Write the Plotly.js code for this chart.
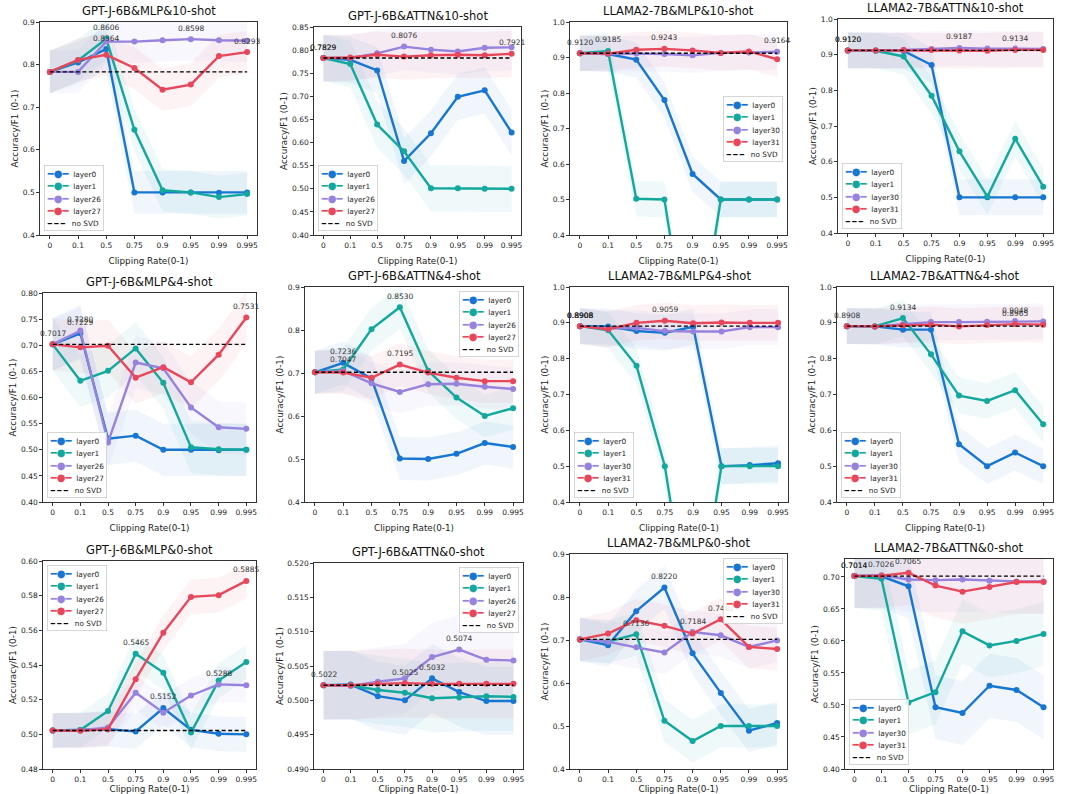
<!DOCTYPE html>
<html><head><meta charset="utf-8">
<script src="https://cdn.plot.ly/plotly-3.0.1.min.js"></script>
<style>html,body{margin:0;padding:0;background:#fff}</style>
</head><body><div id="chart" style="width:1067px;height:794px"></div>
<script>
// ---------------- DATA ----------------
const categories = ['0','0.1','0.5','0.75','0.9','0.95','0.99','0.995'];
const gptjLayers = ['layer0','layer1','layer26','layer27'];
const llamaLayers = ['layer0','layer1','layer30','layer31'];

const panelTitles = [
  'GPT-J-6B&MLP&10-shot','GPT-J-6B&ATTN&10-shot','LLAMA2-7B&MLP&10-shot','LLAMA2-7B&ATTN&10-shot',
  'GPT-J-6B&MLP&4-shot','GPT-J-6B&ATTN&4-shot','LLAMA2-7B&MLP&4-shot','LLAMA2-7B&ATTN&4-shot',
  'GPT-J-6B&MLP&0-shot','GPT-J-6B&ATTN&0-shot','LLAMA2-7B&MLP&0-shot','LLAMA2-7B&ATTN&0-shot'
];
const noSvdBaselines = [0.7829,0.7829,0.9120,0.9120,0.7017,0.7017,0.8908,0.8908,0.5022,0.5022,0.7014,0.7014];
const bandHalfWidths = [0.05,0.05,0.05,0.05,0.05,0.05,0.05,0.05,0.01,0.005,0.05,0.05];

const gptjMlp10 = [
  [0.7829,0.805,0.8364,0.500,0.500,0.500,0.499,0.500],
  [0.7829,0.810,0.8606,0.647,0.505,0.500,0.489,0.496],
  [0.7829,0.7829,0.854,0.854,0.857,0.8598,0.857,0.856],
  [0.7829,0.811,0.823,0.792,0.741,0.753,0.820,0.8293]
];
const gptjAttn10 = [
  [0.7829,0.779,0.756,0.560,0.620,0.699,0.713,0.622],
  [0.7829,0.770,0.639,0.581,0.501,0.501,0.500,0.500],
  [0.7829,0.783,0.793,0.8076,0.801,0.797,0.805,0.806],
  [0.7829,0.784,0.790,0.786,0.789,0.790,0.789,0.7921]
];
const llamaMlp10 = [
  [0.9120,0.910,0.894,0.780,0.572,0.500,0.500,0.500],
  [0.9120,0.9185,0.502,0.500,0.000,0.500,0.500,0.500],
  [0.9120,0.910,0.911,0.910,0.906,0.913,0.914,0.9164],
  [0.9120,0.911,0.922,0.9243,0.920,0.913,0.917,0.895]
];
const llamaAttn10 = [
  [0.9120,0.9118,0.9105,0.871,0.500,0.500,0.500,0.500],
  [0.9120,0.911,0.895,0.785,0.629,0.502,0.664,0.530],
  [0.9120,0.912,0.913,0.916,0.9187,0.917,0.917,0.916],
  [0.9120,0.912,0.913,0.913,0.912,0.911,0.9134,0.913]
];
const gptjMlp4 = [
  [0.7017,0.7229,0.521,0.527,0.500,0.500,0.499,0.500],
  [0.7017,0.632,0.651,0.694,0.628,0.505,0.501,0.500],
  [0.7017,0.7280,0.514,0.667,0.656,0.581,0.543,0.540],
  [0.7017,0.696,0.699,0.638,0.658,0.629,0.682,0.7531]
];
const gptjAttn4 = [
  [0.7017,0.7236,0.687,0.501,0.500,0.512,0.537,0.528],
  [0.7017,0.708,0.802,0.8530,0.705,0.643,0.600,0.618],
  [0.7017,0.7047,0.676,0.656,0.674,0.675,0.668,0.663],
  [0.7017,0.701,0.689,0.7195,0.701,0.689,0.681,0.681]
];
const llamaMlp4 = [
  [0.8908,0.890,0.877,0.872,0.889,0.500,0.503,0.508],
  [0.8908,0.879,0.780,0.500,0.000,0.500,0.500,0.500],
  [0.8908,0.884,0.886,0.877,0.876,0.876,0.888,0.888],
  [0.8908,0.882,0.900,0.9059,0.899,0.901,0.900,0.900]
];
const llamaAttn4 = [
  [0.8908,0.890,0.881,0.881,0.561,0.500,0.538,0.500],
  [0.8908,0.890,0.9134,0.812,0.697,0.682,0.712,0.617],
  [0.8908,0.890,0.896,0.902,0.902,0.903,0.9048,0.904],
  [0.8908,0.890,0.893,0.895,0.890,0.894,0.8965,0.895]
];
const gptjMlp0 = [
  [0.5022,0.5025,0.5030,0.5017,0.5152,0.5026,0.5003,0.5000],
  [0.5022,0.5025,0.5135,0.5465,0.5356,0.5010,0.5310,0.5417],
  [0.5022,0.5022,0.5040,0.5240,0.5125,0.5224,0.5288,0.5283],
  [0.5022,0.5020,0.5030,0.5318,0.5586,0.5793,0.5803,0.5885]
];
const gptjAttn0 = [
  [0.5022,0.5023,0.5006,0.5000,0.5032,0.5012,0.4999,0.4999],
  [0.5022,0.5022,0.5015,0.5011,0.5003,0.5004,0.5006,0.5005],
  [0.5022,0.5021,0.5027,0.5032,0.5063,0.5074,0.5059,0.5058],
  [0.5022,0.5022,0.5024,0.5025,0.5024,0.5024,0.5024,0.5024]
];
const llamaMlp0 = [
  [0.7014,0.688,0.767,0.8220,0.669,0.577,0.489,0.507],
  [0.7014,0.696,0.7136,0.512,0.465,0.500,0.500,0.500],
  [0.7014,0.696,0.683,0.671,0.7184,0.711,0.684,0.699],
  [0.7014,0.715,0.746,0.733,0.715,0.7482,0.684,0.679]
];
const llamaAttn0 = [
  [0.7014,0.7010,0.6854,0.4964,0.4875,0.530,0.5234,0.4964],
  [0.7014,0.697,0.504,0.520,0.615,0.593,0.600,0.611],
  [0.7014,0.7026,0.696,0.695,0.696,0.694,0.693,0.693],
  [0.7014,0.702,0.7065,0.6865,0.677,0.6844,0.692,0.692]
];

// ---------------- STYLE / LAYOUT ----------------
const seriesColors = ['#1776d1','#13a89e','#9782de','#e8475b'];
const bandColors = ['rgba(23,118,209,0.065)','rgba(19,168,158,0.065)','rgba(151,130,222,0.065)','rgba(232,71,91,0.065)'];
const FONT = 'DejaVu Sans, Liberation Sans, sans-serif';
const W = 1067, H = 794;
// plot-area boxes in px: [left, right, top, bottom]
const boxes = [[40,257,22,235],[314,521,27,235],[570,787,22,235],[838,1053,19,233],
  [43,256,293,502],[305,523,287,502],[570,788,287,502],[837,1053,287,502],
  [43,256,561,769],[314,523,563,769],[570,787,554,769],[845,1053,559,769]];
const yRanges = [[0.4,0.9],[0.4,0.85],[0.4,1.0],[0.4,1.0],[0.4,0.8],[0.4,0.9],[0.4,1.0],[0.4,1.0],[0.48,0.60],[0.49,0.52],[0.4,0.9],[0.4,0.728]];
const yDticks = [0.1,0.05,0.1,0.1,0.05,0.1,0.1,0.1,0.02,0.005,0.1,0.05];
const yFormats = ['.1f','.2f','.1f','.1f','.2f','.1f','.1f','.1f','.2f','.3f','.1f','.2f'];
const legendLocs = ['ll','ll','cr','ll','ll','ur','ll','ll','ul','ur','ur','ll'];

const panelValues = [gptjMlp10,gptjAttn10,llamaMlp10,llamaAttn10,gptjMlp4,gptjAttn4,llamaMlp4,llamaAttn4,gptjMlp0,gptjAttn0,llamaMlp0,llamaAttn0];
const panelLayers = [gptjLayers,gptjLayers,llamaLayers,llamaLayers,gptjLayers,gptjLayers,llamaLayers,llamaLayers,gptjLayers,gptjLayers,llamaLayers,llamaLayers];

function legendText(layers){
  const nb = '\u00a0';
  const lines = layers.map((l,k)=>`<span style="color:${seriesColors[k]};font-size:10px">━●━</span><span style="font-size:7.3px">${nb}${nb}${l}</span>`);
  lines.push(`<span style="color:#000;font-size:7px">━ ━ ━</span><span style="font-size:7.3px">${nb}${nb}${nb}no SVD</span>`);
  return lines.join('<br>');
}
const legendPos = {
  ll:{x:0.02,y:0.02,xanchor:'left',yanchor:'bottom'},
  ul:{x:0.02,y:0.98,xanchor:'left',yanchor:'top'},
  ur:{x:0.98,y:0.98,xanchor:'right',yanchor:'top'},
  cr:{x:0.98,y:0.5,xanchor:'right',yanchor:'middle'}
};

const traces = [];
const annotations = [];
const layout = {
  width:W, height:H, margin:{l:0,r:0,t:0,b:0},
  paper_bgcolor:'#fff', plot_bgcolor:'#fff', showlegend:false,
  font:{family:FONT, color:'#222'}, hovermode:false
};

panelValues.forEach((vals,i)=>{
  const n = i+1;
  const xa = 'x'+(n>1?n:''), ya = 'y'+(n>1?n:'');
  const b = boxes[i];
  const d = bandHalfWidths[i];
  // bands
  vals.forEach((v,k)=>{
    traces.push({x:categories, y:v.map(z=>z+d), xaxis:xa, yaxis:ya, mode:'lines', line:{width:0,color:'rgba(0,0,0,0)'}, showlegend:false, hoverinfo:'skip'});
    traces.push({x:categories, y:v.map(z=>z-d), xaxis:xa, yaxis:ya, mode:'lines', line:{width:0,color:'rgba(0,0,0,0)'}, fill:'tonexty', fillcolor:bandColors[k], showlegend:false, hoverinfo:'skip'});
  });
  // lines
  vals.forEach((v,k)=>{
    traces.push({x:categories, y:v, xaxis:xa, yaxis:ya, name:panelLayers[i][k], mode:'lines+markers',
      line:{color:seriesColors[k], width:2.4}, marker:{color:seriesColors[k], size:6}, cliponaxis:true});
    let mi = 0; v.forEach((z,j)=>{ if(z>v[mi]) mi=j; });
    // category axis: annotation x given as the category index
    annotations.push({xref:xa, yref:ya, x:categories.indexOf(categories[mi]), y:v[mi], text:v[mi].toFixed(4), showarrow:false,
      yshift:11, font:{size:7.5, color:'#333', family:FONT}});
  });
  // no SVD baseline
  traces.push({x:categories, y:categories.map(()=>noSvdBaselines[i]), xaxis:xa, yaxis:ya, name:'no SVD', mode:'lines',
    line:{color:'#000', width:1.3, dash:'4px,2.5px'}});

  layout['xaxis'+(n>1?n:'')] = {
    domain:[b[0]/W, b[1]/W], anchor:ya, type:'category', categoryorder:'array', categoryarray:categories,
    range:[-0.35,7.35], showline:true, mirror:true, linecolor:'#000', linewidth:0.8,
    ticks:'outside', ticklen:3, tickwidth:0.8, tickcolor:'#000', showgrid:false, zeroline:false,
    tickfont:{size:7.5, color:'#222', family:FONT},
    title:{text:'Clipping Rate(0-1)', font:{size:8.8, color:'#222', family:FONT}, standoff:8}
  };
  layout['yaxis'+(n>1?n:'')] = {
    domain:[1-b[3]/H, 1-b[2]/H], anchor:xa, range:yRanges[i], tickmode:'linear', tick0:yRanges[i][0], dtick:yDticks[i],
    tickformat:yFormats[i], showline:true, mirror:true, linecolor:'#000', linewidth:0.8,
    ticks:'outside', ticklen:3, tickwidth:0.8, tickcolor:'#000', showgrid:false, zeroline:false,
    tickfont:{size:7.5, color:'#222', family:FONT},
    title:{text:'Accuracy/F1 (0-1)', font:{size:8.8, color:'#222', family:FONT}, standoff:2}
  };
  annotations.push({xref:xa+' domain', yref:ya+' domain', x:0.5, y:1, yanchor:'bottom', yshift:2,
    text:panelTitles[i], showarrow:false, font:{size:11.5, color:'#111', family:FONT}});
  const lp = legendPos[legendLocs[i]];
  annotations.push(Object.assign({xref:xa+' domain', yref:ya+' domain', showarrow:false, align:'left',
    text:legendText(panelLayers[i]), bgcolor:'rgba(255,255,255,0.85)', bordercolor:'#cccccc', borderwidth:0.8, borderpad:2,
    font:{size:9.5, color:'#222', family:FONT}}, lp));
});
layout.annotations = annotations;

Plotly.newPlot('chart', traces, layout, {staticPlot:true, displayModeBar:false});
</script>
</body></html>
